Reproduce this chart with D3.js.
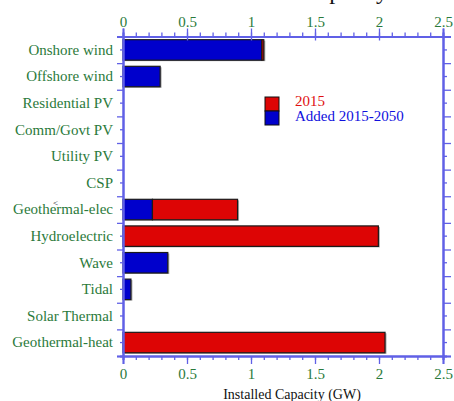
<!DOCTYPE html>
<html>
<head>
<meta charset="utf-8">
<script src="https://cdn.jsdelivr.net/npm/d3@7"></script>
<style>
  body { margin: 0; background: #fff; }
</style>
</head>
<body>
<svg id="chart" width="454" height="401"></svg>
<script>
// Categories top to bottom and the two stacked series (GW)
const categories = ["Onshore wind", "Offshore wind", "Residential PV", "Comm/Govt PV",
  "Utility PV", "CSP", "Geothermal-elec", "Hydroelectric", "Wave", "Tidal",
  "Solar Thermal", "Geothermal-heat"];
const added = [1.085, 0.29, 0, 0, 0, 0, 0.23, 0, 0.35, 0.062, 0, 0];
const base2015 = [0.015, 0, 0, 0, 0, 0, 0.665, 1.995, 0, 0, 0, 2.047];
const majorTicks = [0, 0.5, 1, 1.5, 2, 2.5];
const tickLabels = ["0", "0.5", "1", "1.5", "2", "2.5"];
const minorTicks = d3.range(0, 26).map(i => i / 10);

const serif = "'Liberation Serif', 'Times New Roman', Times, 'DejaVu Serif', serif";

const svg = d3.select("#chart");
const margin = { top: 36.5, right: 11, bottom: 45, left: 123 };
const width = 454 - margin.left - margin.right;
const height = 401 - margin.top - margin.bottom;

const axisColor = "#6060e6";
const labelColor = "#2b7a3b";
const blue = "#0000cc";
const red = "#dd0505";

const g = svg.append("g")
  .attr("transform", `translate(${margin.left},${margin.top})`);

const x = d3.scaleLinear().domain([0, 2.5]).range([0, width]);
const y = d3.scaleBand().domain(categories).range([0, height]).paddingInner(0.23).paddingOuter(0.12);
const yEdge = d3.scaleLinear().domain([0, categories.length]).range([0, height]);

// Stacked bars: added first, then 2015
const rows = categories.map((c, i) => ({ name: c, added: added[i], base: base2015[i] }));
const stack = d3.stack().keys(["added", "base"])(rows);
const fills = { added: blue, base: red };

// soft grey shadow behind each full bar
g.append("g")
  .selectAll("rect")
  .data(rows.filter(d => d.added + d.base > 0))
  .join("rect")
  .attr("x", 1.5)
  .attr("y", d => y(d.name) + 1)
  .attr("width", d => x(d.added + d.base))
  .attr("height", y.bandwidth())
  .attr("fill", "#aaa");

g.append("g")
  .selectAll("g")
  .data(stack)
  .join("g")
  .attr("fill", d => fills[d.key])
  .selectAll("rect")
  .data(d => d.filter(s => s[1] - s[0] > 0))
  .join("rect")
  .attr("x", d => x(d[0]))
  .attr("y", d => y(d.data.name))
  .attr("width", d => x(d[1]) - x(d[0]))
  .attr("height", y.bandwidth())
  .attr("stroke", "#1a1a1a")
  .attr("stroke-width", 1.2);

// Axes helpers
function styleAxis(sel, lineWidth) {
  sel.attr("font-family", serif);
  sel.select(".domain").attr("stroke", axisColor).attr("stroke-width", lineWidth);
  sel.selectAll(".tick line").attr("stroke", axisColor).attr("stroke-width", 1.3);
  sel.selectAll(".tick text")
    .attr("fill", labelColor)
    .attr("font-family", serif)
    .attr("font-size", "15px");
}

// Top axis
g.append("g")
  .call(d3.axisTop(x).tickValues(minorTicks).tickSize(4).tickFormat(""))
  .call(s => styleAxis(s, 2));
g.append("g")
  .call(d3.axisTop(x).tickValues(majorTicks).tickSize(8)
    .tickFormat((d, i) => tickLabels[i]).tickPadding(2))
  .call(s => styleAxis(s, 2))
  .call(s => s.selectAll(".tick line").attr("y1", -8).attr("y2", 4));

// Bottom axis
g.append("g")
  .attr("transform", `translate(0,${height})`)
  .call(d3.axisBottom(x).tickValues(minorTicks).tickSize(4).tickFormat(""))
  .call(s => styleAxis(s, 2));
g.append("g")
  .attr("transform", `translate(0,${height})`)
  .call(d3.axisBottom(x).tickValues(majorTicks).tickSize(8)
    .tickFormat((d, i) => tickLabels[i]).tickPadding(4))
  .call(s => styleAxis(s, 2));

// Left axis: category labels at centers, longer ticks at band edges
g.append("g")
  .call(d3.axisLeft(y).tickSize(3).tickPadding(7))
  .call(s => styleAxis(s, 2));
g.append("g")
  .call(d3.axisLeft(yEdge).ticks(12).tickSize(6).tickFormat(""))
  .call(s => styleAxis(s, 2));

// Right axis
g.append("g")
  .attr("transform", `translate(${width},0)`)
  .call(d3.axisRight(y).tickSize(4).tickFormat(""))
  .call(s => styleAxis(s, 2));
g.append("g")
  .attr("transform", `translate(${width},0)`)
  .call(d3.axisRight(yEdge).ticks(12).tickSize(8).tickFormat(""))
  .call(s => styleAxis(s, 2));

// Axis title
svg.append("text")
  .attr("x", 292)
  .attr("y", 399)
  .attr("text-anchor", "middle")
  .attr("font-family", serif)
  .attr("font-size", "14px")
  .attr("fill", "#111")
  .text("Installed Capacity (GW)");

// Chart title, clipped at top edge
svg.append("text")
  .attr("x", 388)
  .attr("y", -1)
  .attr("text-anchor", "end")
  .attr("font-family", serif)
  .attr("font-size", "24px")
  .attr("fill", "#111")
  .text("Installed Capacity");

// Stray glyph over the Geothermal-elec label
svg.append("text")
  .attr("x", 53)
  .attr("y", 206)
  .attr("font-family", serif)
  .attr("font-size", "9px")
  .attr("fill", "#111")
  .text("<");

// Legend
const legendItems = [
  { label: "2015", color: red },
  { label: "Added 2015-2050", color: blue }
];
const legend = svg.append("g").attr("transform", "translate(265,97)");
legend.selectAll("rect")
  .data(legendItems)
  .join("rect")
  .attr("x", 0)
  .attr("y", (d, i) => i * 14)
  .attr("width", 14)
  .attr("height", 14)
  .attr("fill", d => d.color)
  .attr("stroke", "#111")
  .attr("stroke-width", 1);
legend.selectAll("text")
  .data(legendItems)
  .join("text")
  .attr("x", 30)
  .attr("y", (d, i) => 9 + i * 15)
  .attr("font-family", serif)
  .attr("font-size", "15px")
  .attr("fill", d => d.color === red ? "#e01010" : "#1010dd")
  .text(d => d.label);
</script>
</body>
</html>
